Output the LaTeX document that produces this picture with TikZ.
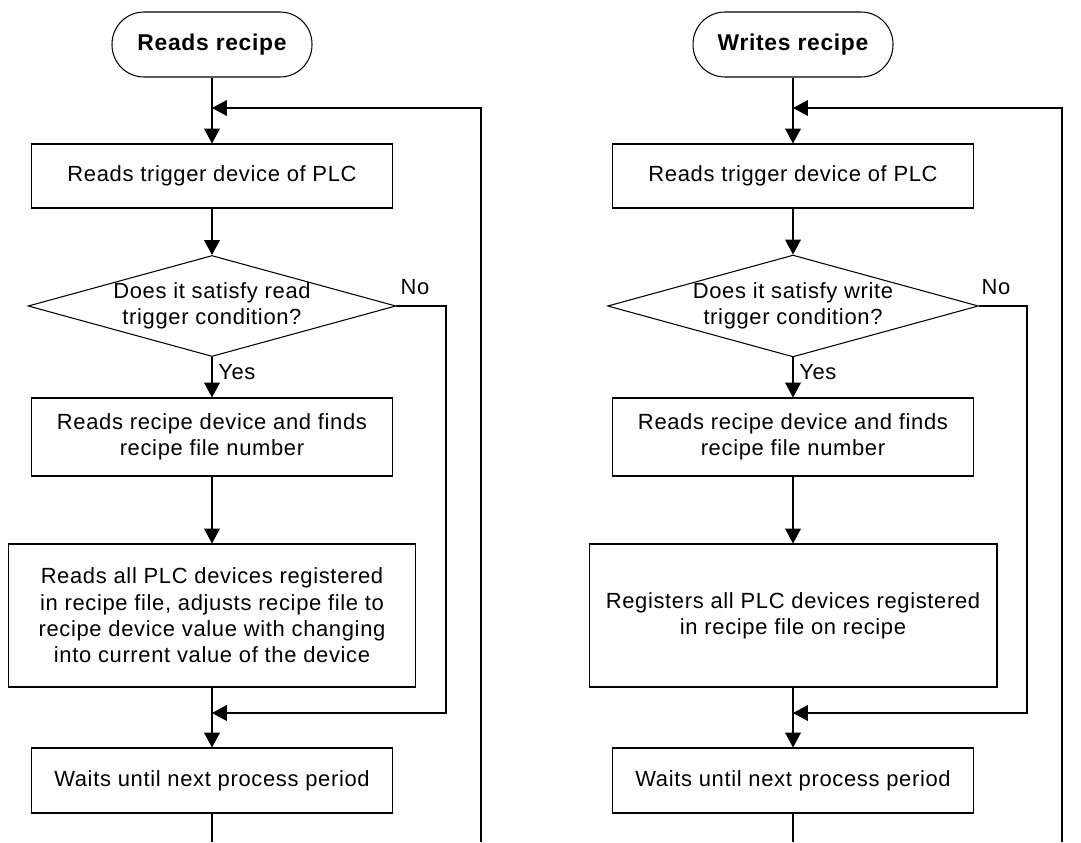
\documentclass[tikz,border=0pt]{standalone}
\usepackage{fontspec}
\setmainfont[LetterSpace=3]{Liberation Sans}
\usetikzlibrary{positioning,arrows.meta,shapes.geometric}

\begin{document}
\begin{tikzpicture}[x=0.02cm,y=-0.02cm,line width=0.6pt,
  every node/.style={font=\fontsize{12.5}{15}\selectfont},
  term/.style={draw,rounded corners=0.64cm,minimum width=4cm,minimum height=1.3cm,font=\fontsize{13}{16}\selectfont\bfseries},
  box/.style={draw,minimum width=7.22cm,align=center},
  decide/.style={draw,diamond,aspect=3.64,inner sep=0pt,minimum width=7.28cm,minimum height=2cm,align=center},
  arr/.style={-{Triangle[width=9pt,length=8.5pt]}}]
\useasboundingbox (0,0) rectangle (1081,842);

% reads recipe
\node[term] (rstart) at (212,44.5) {Reads recipe};
\node[box,minimum height=1.28cm] (rtrig) at (212,176) {Reads trigger device of PLC};
\node[decide] (rcond) at (212,306) {Does it satisfy read\\trigger condition?};
\node[box,minimum height=1.56cm] (rfind) at (212,437) {Reads recipe device and finds\\recipe file number};
\node[box,minimum width=8.16cm,minimum height=2.86cm] (rread) at (212,615.5) {Reads all PLC devices registered\\in recipe file, adjusts recipe file to\\recipe device value with changing\\into current value of the device};
\node[box,minimum height=1.3cm] (rwait) at (212,780.5) {Waits until next process period};
\coordinate (rj1) at (212,108);
\coordinate (rj2) at (212,713);
\coordinate (rno) at (446,713);
\coordinate (rend) at (212,842);
\coordinate (rloop) at (481,842);
\node (rnolab) at (415,287) {No};
\node[anchor=west,inner sep=1pt] (ryeslab) at (216,372) {Yes};

\draw[arr] (rstart) -- (rtrig);
\draw[arr] (rtrig) -- (rcond);
\draw[arr] (rcond) -- (rfind);
\draw[arr] (rfind) -- (rread);
\draw[arr] (rread) -- (rwait);
\draw (rwait) -- (rend);
\draw[arr] (rloop) |- (rj1);
\draw[arr] (rcond.east) -| (rno) -- (rj2);

% writes recipe
\node[term] (wstart) at (793,44.5) {Writes recipe};
\node[box,minimum height=1.28cm] (wtrig) at (793,176) {Reads trigger device of PLC};
\node[decide] (wcond) at (793,306) {Does it satisfy write\\trigger condition?};
\node[box,minimum height=1.56cm] (wfind) at (793,437) {Reads recipe device and finds\\recipe file number};
\node[box,minimum width=8.16cm,minimum height=2.86cm] (wreg) at (793,615.5) {Registers all PLC devices registered\\in recipe file on recipe};
\node[box,minimum height=1.3cm] (wwait) at (793,780.5) {Waits until next process period};
\coordinate (wj1) at (793,108);
\coordinate (wj2) at (793,713);
\coordinate (wno) at (1027,713);
\coordinate (wend) at (793,842);
\coordinate (wloop) at (1062,842);
\node (wnolab) at (996,287) {No};
\node[anchor=west,inner sep=1pt] (wyeslab) at (797,372) {Yes};

\draw[arr] (wstart) -- (wtrig);
\draw[arr] (wtrig) -- (wcond);
\draw[arr] (wcond) -- (wfind);
\draw[arr] (wfind) -- (wreg);
\draw[arr] (wreg) -- (wwait);
\draw (wwait) -- (wend);
\draw[arr] (wloop) |- (wj1);
\draw[arr] (wcond.east) -| (wno) -- (wj2);
\end{tikzpicture}
\end{document}
